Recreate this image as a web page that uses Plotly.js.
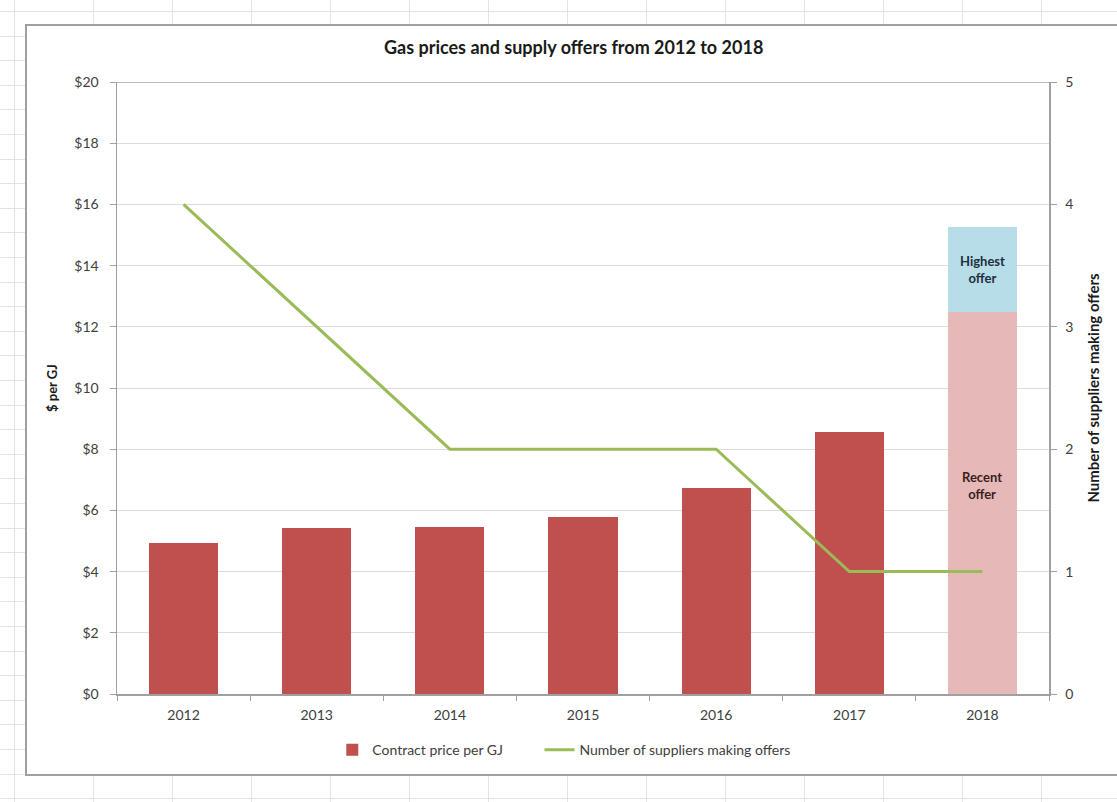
<!DOCTYPE html>
<html>
<head>
<meta charset="utf-8">
<script src="https://cdn.plot.ly/plotly-3.0.1.min.js"></script>
<style>
  html, body { margin: 0; padding: 0; width: 1117px; height: 802px; overflow: hidden; }
  body {
    background-color: #ffffff;
    background-image:
      repeating-linear-gradient(to right, transparent 0px, transparent 14px, #e3e3e3 14px, #e3e3e3 15px, transparent 15px, transparent 79px),
      repeating-linear-gradient(to bottom, transparent 0px, transparent 11px, #e3e3e3 11px, #e3e3e3 12px, transparent 12px, transparent 24.6px);
  }
  #frame {
    position: absolute; left: 25px; top: 24px; width: 1100px; height: 748px;
    border: 2px solid #a0a0a0; border-right: none; background: #ffffff;
  }
  #chart { width: 1100px; height: 748px; }
</style>
</head>
<body>
<div id="frame"><div id="chart"></div></div>
<script>
const years = ['2012', '2013', '2014', '2015', '2016', '2017', '2018'];
const contractYears = ['2012', '2013', '2014', '2015', '2016', '2017'];
const contractPrice = [4.95, 5.42, 5.46, 5.78, 6.73, 8.56];
const offerYear = ['2018'];
const recentOffer = [12.48];
const highestOfferExtra = [2.78];
const suppliers = [4, 3, 2, 2, 2, 1, 1];
const priceTicks = [0, 2, 4, 6, 8, 10, 12, 14, 16, 18, 20];
const priceTickLabels = priceTicks.map(v => '$' + v);
const supplierTicks = [0, 1, 2, 3, 4, 5];

const font = 'Lato, "Open Sans", sans-serif';
const offerIdx = years.indexOf(offerYear[0]);

const traces = [
  {
    type: 'bar', x: contractYears, y: contractPrice, name: 'Contract price per GJ',
    marker: { color: '#c0504d' }, width: 0.52, legend: 'legend'
  },
  {
    type: 'bar', x: offerYear, y: recentOffer, name: 'Recent offer', showlegend: false,
    marker: { color: '#e6b9b8' }, width: 0.52
  },
  {
    type: 'bar', x: offerYear, y: highestOfferExtra, name: 'Highest offer', showlegend: false,
    marker: { color: '#b7dde8' }, width: 0.52
  },
  {
    type: 'scatter', mode: 'lines', x: years, y: suppliers, yaxis: 'y2',
    name: 'Number of suppliers making offers', legend: 'legend2',
    line: { color: '#9bbb59', width: 3 }
  }
];

const legendCommon = {
  orientation: 'h', xanchor: 'left',
  yref: 'container', y: 0.032, yanchor: 'middle',
  font: { family: font, size: 14, color: '#404040' }, bgcolor: 'rgba(0,0,0,0)'
};

const layout = {
  width: 1100, height: 748,
  margin: { l: 90, r: 78, t: 56, b: 80 },
  paper_bgcolor: 'rgba(0,0,0,0)',
  plot_bgcolor: '#ffffff',
  barmode: 'stack',
  font: { family: font, size: 13, color: '#404040' },
  title: {
    text: '<b>Gas prices and supply offers from 2012 to 2018</b>',
    font: { family: font, size: 18, color: '#1a1a1a' },
    x: 0.497, xanchor: 'center', y: 0.971, yanchor: 'middle'
  },
  xaxis: {
    type: 'category', categoryorder: 'array', categoryarray: years,
    range: [-0.5, years.length - 0.5], autorange: false,
    showline: true, linecolor: '#a0a0a0', linewidth: 1.5,
    ticks: 'outside', tickson: 'boundaries', ticklen: 5, tickcolor: '#a0a0a0',
    ticklabelstandoff: 8,
    tickfont: { family: font, size: 14, color: '#404040' },
    showgrid: false, fixedrange: true
  },
  yaxis: {
    range: [0, 20], tickvals: priceTicks, ticktext: priceTickLabels,
    showline: true, linecolor: '#a0a0a0', linewidth: 1.5, mirror: false,
    ticks: 'outside', ticklen: 6, tickcolor: '#a0a0a0',
    ticklabelstandoff: 8,
    gridcolor: '#dcdcdc', gridwidth: 1, zeroline: false,
    tickfont: { family: font, size: 14, color: '#404040' },
    title: { text: '<b>$ per GJ</b>', font: { family: font, size: 13, color: '#1a1a1a' }, standoff: 14 },
    fixedrange: true
  },
  yaxis2: {
    overlaying: 'y', side: 'right', range: [0, 5], tickvals: supplierTicks,
    showline: true, linecolor: '#a0a0a0', linewidth: 1.5,
    ticks: 'outside', ticklen: 6, tickcolor: '#a0a0a0',
    ticklabelstandoff: 6,
    showgrid: false, zeroline: false,
    tickfont: { family: font, size: 14, color: '#404040' },
    title: { text: '<b>Number of suppliers making offers</b>', font: { family: font, size: 15, color: '#1a1a1a' }, standoff: 16 },
    fixedrange: true
  },
  shapes: [
    { type: 'line', xref: 'paper', yref: 'y', x0: 0, x1: 1, y0: 20, y1: 20, line: { color: '#a0a0a0', width: 1.5 } }
  ],
  annotations: [
    { x: offerIdx, y: recentOffer[0] + highestOfferExtra[0] / 2, xref: 'x', yref: 'y',
      text: '<b>Highest<br>offer</b>', showarrow: false, font: { family: font, size: 13, color: '#1f2d3d' } },
    { x: offerIdx, y: 6.8, xref: 'x', yref: 'y',
      text: '<b>Recent<br>offer</b>', showarrow: false, font: { family: font, size: 13, color: '#3a1f1f' } }
  ],
  legend: Object.assign({}, legendCommon, { x: 0.231 }),
  legend2: Object.assign({}, legendCommon, { x: 0.4533 }),
  showlegend: true
};

Plotly.newPlot('chart', traces, layout, { displayModeBar: false, staticPlot: true });
</script>
</body>
</html>
